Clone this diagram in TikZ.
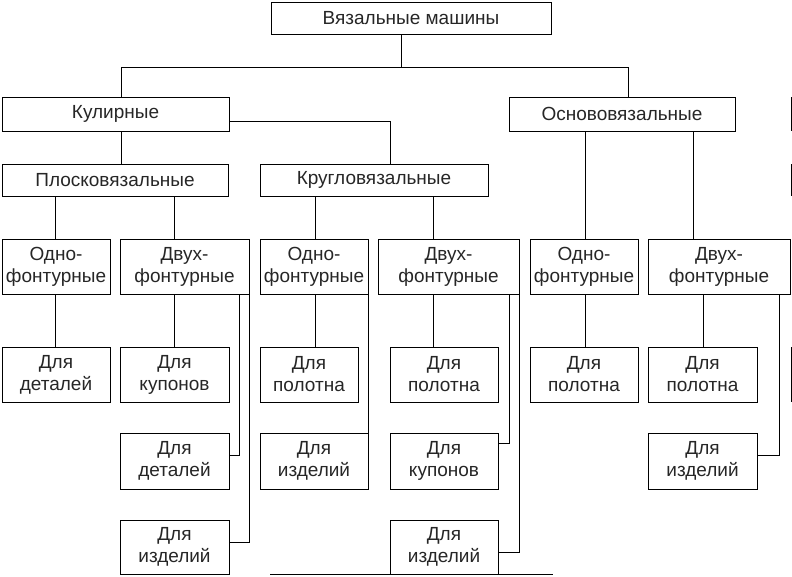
\documentclass[tikz,border=0pt]{standalone}
\usepackage{fontspec}
\setmainfont{Liberation Sans}
\begin{document}
\begin{tikzpicture}[x=1pt,y=-1pt,
  box/.style={draw=black, line width=1pt, rectangle, inner sep=0pt, align=center,
    font=\fontsize{19}{22}\selectfont, text=black!85},
  conn/.style={draw=black, line width=1pt}]
\useasboundingbox (0,0) rectangle (792,576);
% level 0-2
\node[box, minimum width=280, minimum height=32] (top) at (411,18) {Вязальные машины};
\node[box, minimum width=227, minimum height=34] (kul) at (115.5,114) {Кулирные};
\node[box, minimum width=226, minimum height=34] (osn) at (622,114) {Основовязальные};
\node[box, minimum width=226, minimum height=32] (plo) at (115,180) {Плосковязальные};
\node[box, minimum width=228, minimum height=32] (kru) at (374,180) {Кругловязальные};
% level 3
\node[box, minimum width=108, minimum height=55] (o1) at (56,266.5) {Одно-\\фонтурные};
\node[box, minimum width=129, minimum height=55] (d1) at (184.5,266.5) {Двух-\\фонтурные};
\node[box, minimum width=108, minimum height=55] (o2) at (314,266.5) {Одно-\\фонтурные};
\node[box, minimum width=141, minimum height=55] (d2) at (448.5,266.5) {Двух-\\фонтурные};
\node[box, minimum width=108, minimum height=55] (o3) at (584,266.5) {Одно-\\фонтурные};
\node[box, minimum width=142, minimum height=55] (d3) at (719,266.5) {Двух-\\фонтурные};
% level 4
\node[box, minimum width=108, minimum height=55] (r4a) at (56,374.5) {Для\\деталей};
\node[box, minimum width=109, minimum height=55] (r4b) at (174.5,374.5) {Для\\купонов};
\node[box, minimum width=98, minimum height=55] (r4c) at (309,374.5) {Для\\полотна};
\node[box, minimum width=108, minimum height=55] (r4d) at (444,374.5) {Для\\полотна};
\node[box, minimum width=108, minimum height=55] (r4e) at (584,374.5) {Для\\полотна};
\node[box, minimum width=109, minimum height=55] (r4f) at (702.5,374.5) {Для\\полотна};
% level 5
\node[box, minimum width=109, minimum height=56] (r5a) at (174.5,461) {Для\\деталей};
\node[box, minimum width=108, minimum height=56] (r5b) at (314,461) {Для\\изделий};
\node[box, minimum width=108, minimum height=56] (r5c) at (444,461) {Для\\купонов};
\node[box, minimum width=109, minimum height=56] (r5d) at (702.5,461) {Для\\изделий};
% level 6
\node[box, minimum width=109, minimum height=54.5] (r6a) at (174.5,547.25) {Для\\изделий};
\node[box, minimum width=108, minimum height=54.5] (r6b) at (444,547.25) {Для\\изделий};
% junction coordinates
\coordinate (jT) at (401,67);
\coordinate (jL) at (121,67);
\coordinate (jR) at (628,67);
\coordinate (k2) at (390,121);
\coordinate (x55) at (55,0);
\coordinate (x174) at (174,0);
\coordinate (x315) at (315,0);
\coordinate (x433) at (433,0);
\coordinate (x585) at (585,0);
\coordinate (x693) at (693,0);
\coordinate (x703) at (703,0);
\coordinate (s1) at (239,455);
\coordinate (s2) at (249,542);
\coordinate (s3) at (509,443);
\coordinate (s4) at (519,552);
\coordinate (s5) at (779,455);
% connectors
\draw[conn] (jT |- top.south) -- (jT);
\draw[conn] (jL |- kul.north) -- (jL) -- (jR) -- (jR |- osn.north);
\draw[conn] (jL |- kul.south) -- (jL |- plo.north);
\draw[conn] (kul.east |- k2) -- (k2) -- (k2 |- kru.north);
\draw[conn] (x55 |- plo.south) -- (x55 |- o1.north);
\draw[conn] (x174 |- plo.south) -- (x174 |- d1.north);
\draw[conn] (x315 |- kru.south) -- (x315 |- o2.north);
\draw[conn] (x433 |- kru.south) -- (x433 |- d2.north);
\draw[conn] (x585 |- osn.south) -- (x585 |- o3.north);
\draw[conn] (x693 |- osn.south) -- (x693 |- d3.north);
\draw[conn] (x55 |- o1.south) -- (x55 |- r4a.north);
\draw[conn] (x174 |- d1.south) -- (x174 |- r4b.north);
\draw[conn] (x315 |- o2.south) -- (x315 |- r4c.north);
\draw[conn] (x433 |- d2.south) -- (x433 |- r4d.north);
\draw[conn] (x585 |- o3.south) -- (x585 |- r4e.north);
\draw[conn] (x703 |- d3.south) -- (x703 |- r4f.north);
\draw[conn] (s1 |- d1.south) -- (s1) -- (r5a.east |- s1);
\draw[conn] (s2 |- d1.south) -- (s2) -- (r6a.east |- s2);
\draw[conn] (o2.south east) -- (r5b.north east);
\draw[conn] (s3 |- d2.south) -- (s3) -- (r5c.east |- s3);
\draw[conn] (s4 |- d2.south) -- (s4) -- (r6b.east |- s4);
\draw[conn] (s5 |- d3.south) -- (s5) -- (r5d.east |- s5);
% fragments of cut-off neighbours at the picture's edges
\draw[conn] (791,97) -- (791,131);
\draw[conn] (791,164) -- (791,196);
\draw[conn] (791,347) -- (791,402);
\draw[conn] (270,574.5) -- (553,574.5);
\end{tikzpicture}
\end{document}
